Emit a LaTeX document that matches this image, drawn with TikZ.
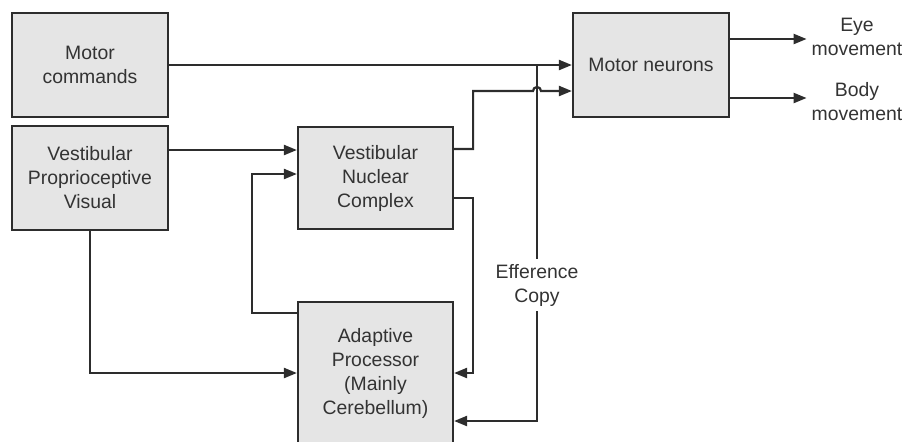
\documentclass[tikz,border=0pt]{standalone}
\usepackage{fontspec}
\setmainfont{Liberation Sans}
\usetikzlibrary{positioning,arrows.meta}
\definecolor{boxgray}{RGB}{229,229,229}
\definecolor{linegray}{RGB}{45,45,45}

\begin{document}
\begin{tikzpicture}[->,>={Triangle[length=6.5pt,width=5pt]},line width=1.1pt,color=linegray,
        font=\fontsize{9.7}{12}\selectfont,
        main node/.style={rectangle,draw,fill=boxgray,text=black!80,align=center,
          minimum width=78pt,minimum height=52pt,inner sep=0pt},
        side label/.style={align=center,text=black!80,inner sep=2pt}]

    \useasboundingbox (-45pt,-188pt) rectangle (408.5pt,32.5pt);

    \node[main node] (mc) {Motor\\commands};
    \node[main node] (sens) [below of=mc,node distance=56.5pt] {Vestibular\\Proprioceptive\\Visual};
    \node[main node,minimum width=77.5pt,minimum height=51pt] (vnc) [right of=sens,node distance=142.75pt] {Vestibular\\Nuclear\\Complex};
    \node[main node,minimum width=77.5pt,minimum height=71pt] (ap) [below of=vnc,node distance=97.5pt] {Adaptive\\Processor\\(Mainly\\Cerebellum)};
    \node[main node] (mn) [right of=mc,node distance=280.5pt] {Motor neurons};
    \node[side label] (eye) [right of=mn,node distance=103pt,yshift=14.25pt] {Eye\\movement};
    \node[side label] (body) [right of=mn,node distance=103pt,yshift=-18.25pt] {Body\\movement};
    \node[side label] (eff) [right of=ap,node distance=80.75pt,yshift=44pt] {Efference\\Copy};

    \coordinate (tap) at (eff |- mc.east);
    \path ([yshift=14.5pt]vnc.east) coordinate (vncup)
          ([yshift=-13pt]mn.west) coordinate (mnlow)
          ([yshift=13pt]mn.east) coordinate (eyeout)
          ([yshift=-16.5pt]mn.east) coordinate (bodyout);
    \coordinate (hop) at (tap |- mnlow);

    \draw (mc) -- (mn);
    \draw ([yshift=14pt]sens.east) -- ([yshift=14pt]vnc.west);
    \draw (sens) |- (ap);
    \draw ([yshift=-6pt]ap.north west) -- ++(-22.5pt,0) |- ([yshift=2pt]vnc.west);
    \draw (vncup) -- ++(9.5pt,0) |- ([xshift=-2pt]hop)
        arc[start angle=180,end angle=0,radius=2pt] -- (mnlow);
    \draw ([yshift=-10pt]vnc.east) -- ++(9.5pt,0) |- (ap.east);
    \draw[-] (tap) -- (eff);
    \draw (eff) |- ([yshift=-24pt]ap.east);
    \draw (eyeout) -- (eyeout -| eye.west);
    \draw (bodyout) -- (bodyout -| body.west);

\end{tikzpicture}
\end{document}
